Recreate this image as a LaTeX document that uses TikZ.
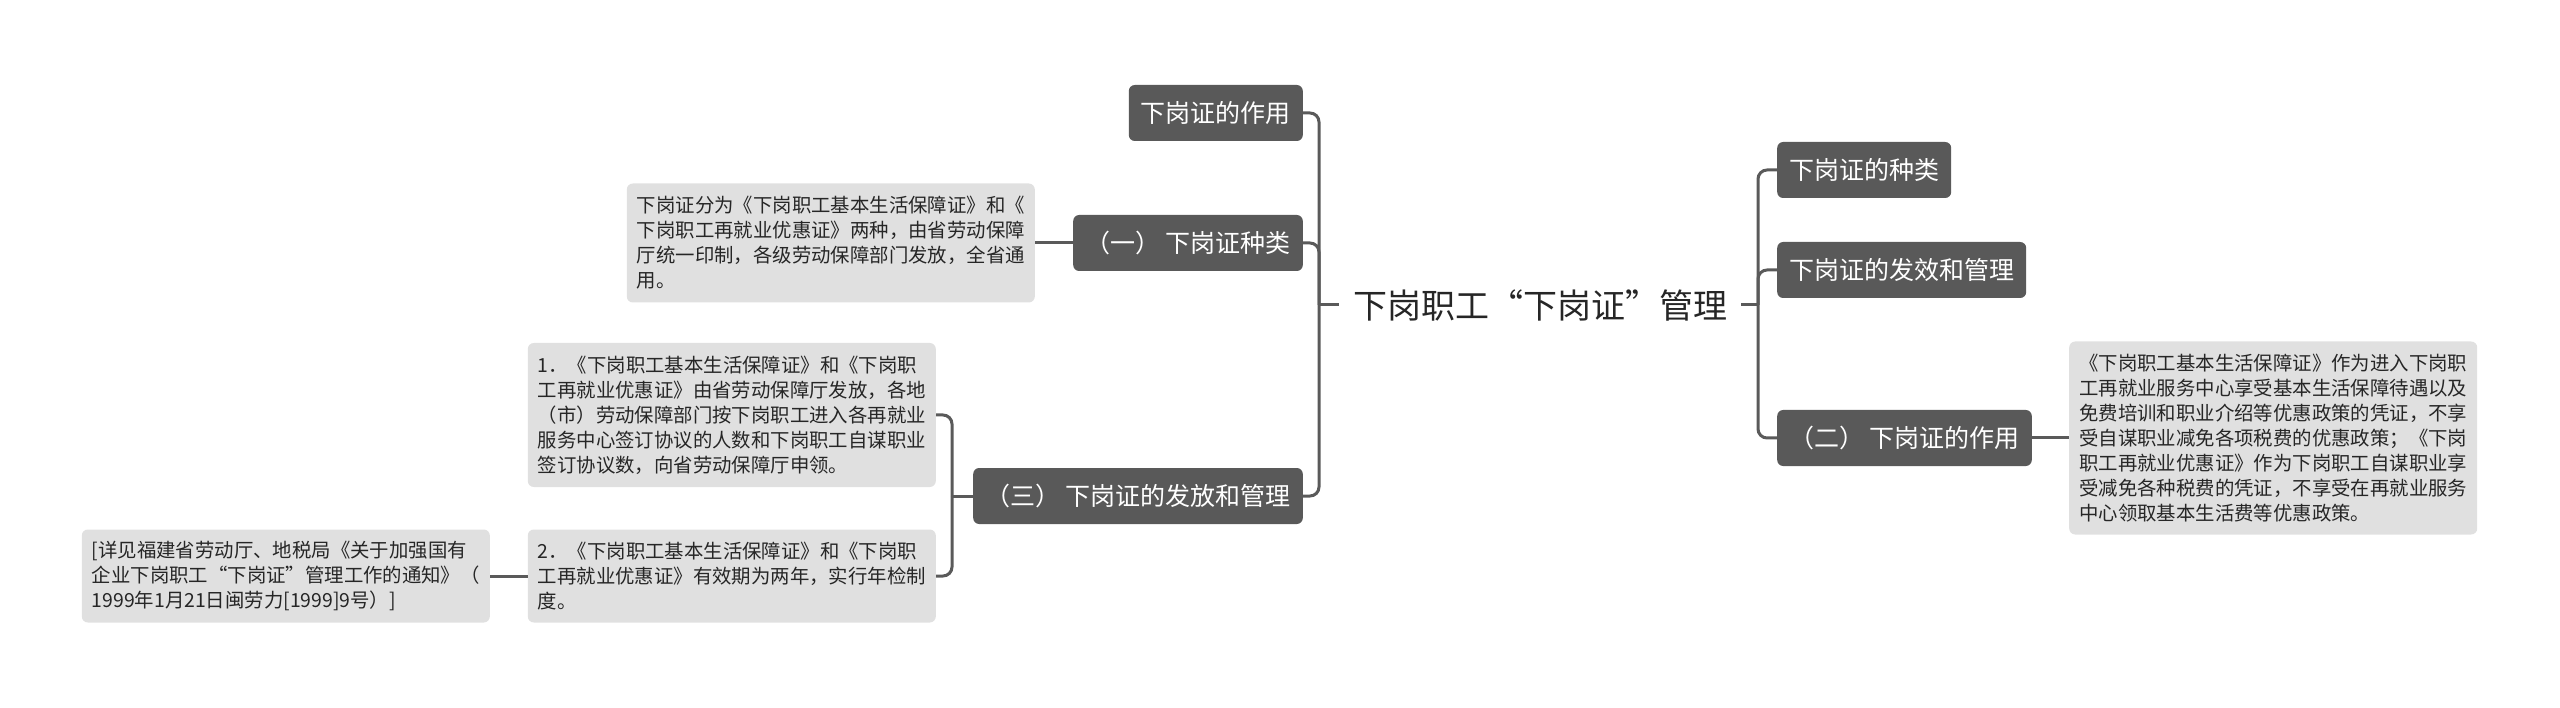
\documentclass[tikz,border=0pt]{standalone}
\usepackage{fontspec}
\setmainfont{Noto Sans CJK SC}
\definecolor{darkbox}{HTML}{595959}
\definecolor{lightbox}{HTML}{E0E0E0}
\definecolor{linec}{HTML}{5A5A5A}
\definecolor{txt}{HTML}{262626}
\begin{document}
\begin{tikzpicture}[x=1pt,y=-1pt,
  topic/.style={fill=darkbox, text=white, rounded corners=6pt,
    font=\fontsize{25}{30}\selectfont, inner xsep=12pt, inner ysep=0pt, minimum height=56pt},
  note/.style={fill=lightbox, text=txt, rounded corners=6pt,
    font=\fontsize{19.4}{25}\selectfont, align=left, inner xsep=10pt, inner ysep=0pt, text width=388pt},
  conn/.style={draw=linec, line width=3pt, rounded corners=9pt}]
\useasboundingbox (0,0) rectangle (2560,708);
% left side
\node[topic, anchor=east] (zy) at (1303,113) {下岗证的作用};
\node[topic, anchor=east] (k1) at (1303,243) {（一） 下岗证种类};
\node[note, anchor=east, minimum height=119pt] (n1) at (1035,243)
  {下岗证分为《下岗职工基本生活保障证》和《\\下岗职工再就业优惠证》两种，由省劳动保障\\厅统一印制，各级劳动保障部门发放，全省通\\用。};
\node[topic, anchor=east] (k3) at (1303,496) {（三） 下岗证的发放和管理};
\node[note, anchor=east, minimum height=144pt] (n31) at (936,415)
  {1．《下岗职工基本生活保障证》和《下岗职\\工再就业优惠证》由省劳动保障厅发放，各地\\（市）劳动保障部门按下岗职工进入各再就业\\服务中心签订协议的人数和下岗职工自谋职业\\签订协议数，向省劳动保障厅申领。};
\node[note, anchor=east, minimum height=93pt] (n32) at (936,576)
  {2．《下岗职工基本生活保障证》和《下岗职\\工再就业优惠证》有效期为两年，实行年检制\\度。};
\node[note, anchor=east, minimum height=93pt] (n33) at (490,576)
  {[详见福建省劳动厅、地税局《关于加强国有\\企业下岗职工“下岗证”管理工作的通知》（\\1999年1月21日闽劳力[1999]9号）]};
% root
\node[font=\fontsize{34}{40}\selectfont, text=txt, inner xsep=14pt] (root) at (1540,305) {下岗职工“下岗证”管理};
% right side
\node[topic, anchor=west] (r1) at (1777,170) {下岗证的种类};
\node[topic, anchor=west] (r2) at (1777,270) {下岗证的发效和管理};
\node[topic, anchor=west] (r3) at (1777,438) {（二） 下岗证的作用};
\node[note, anchor=west, minimum height=193pt] (n2) at (2069,438)
  {《下岗职工基本生活保障证》作为进入下岗职\\工再就业服务中心享受基本生活保障待遇以及\\免费培训和职业介绍等优惠政策的凭证，不享\\受自谋职业减免各项税费的优惠政策；《下岗\\职工再就业优惠证》作为下岗职工自谋职业享\\受减免各种税费的凭证，不享受在再就业服务\\中心领取基本生活费等优惠政策。};
% junctions
\coordinate (L) at (1319,305);
\coordinate (R) at (1758,305);
\coordinate (M) at (952,496);
% connectors
\draw[conn] (zy.east) -| (L);
\draw[conn] (k1.east) -| (L);
\draw[conn] (k3.east) -| (L);
\draw[conn] (root.west) -- (L);
\draw[conn] (root.east) -- (R);
\draw[conn] (R) |- (r1.west);
\draw[conn] (R) |- (r2.west);
\draw[conn] (R) |- (r3.west);
\draw[conn] (n1.east) -- (k1.west);
\draw[conn] (k3.west) -- (M);
\draw[conn] (n31.east) -| (M);
\draw[conn] (n32.east) -| (M);
\draw[conn] (n33.east) -- (n32.west);
\draw[conn] (r3.east) -- (n2.west);
\end{tikzpicture}
\end{document}
